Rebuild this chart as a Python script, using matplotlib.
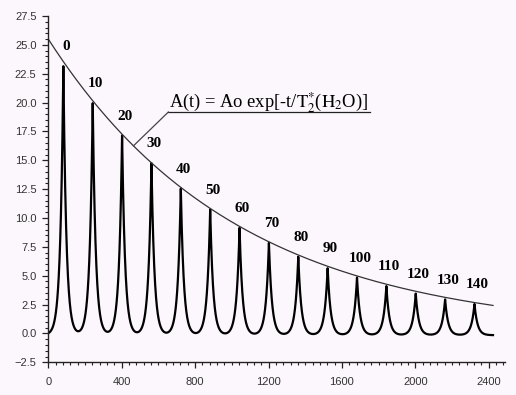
import numpy as np
import matplotlib.pyplot as plt
from matplotlib.ticker import MultipleLocator

# echo peaks: position (points), height, label (ms)
peak_x = [82, 242, 402, 562, 722, 882, 1042, 1202, 1362, 1522, 1682, 1842, 2002, 2162, 2322]
peak_h = [23.3, 20.1, 17.3, 14.9, 12.7, 10.9, 9.3, 8.0, 6.8, 5.8, 5.0, 4.25, 3.6, 3.1, 2.7]
peak_labels = ['0', '10', '20', '30', '40', '50', '60', '70', '80', '90',
               '100', '110', '120', '130', '140']
peak_tau = 16.5      # decay of each echo, points
baseline = -0.15

# envelope A(t) = Ao exp(-t/T2*)
env_a0 = 25.5
env_t2 = 1030.0
t_end = 2423

bg = '#fcf7fc'
plt.rcParams['mathtext.fontset'] = 'stix'

fig = plt.figure(figsize=(5.16, 3.95), dpi=100, facecolor=bg)
ax = fig.add_axes([48.3 / 516, (395 - 362.3) / 395, 457 / 516, 346.3 / 395])
ax.set_facecolor(bg)

t = np.arange(0, t_end + 1, 1.0)
sig = np.full_like(t, baseline)
for x0, h in zip(peak_x, peak_h):
    sig += h * np.exp(-np.abs(t - x0) / peak_tau)
ax.plot(t, sig, color='black', lw=1.6)

env = env_a0 * np.exp(-t / env_t2)
ax.plot(t, env, color='#333333', lw=0.9)

for x0, h, lab in zip(peak_x, peak_h, peak_labels):
    ax.annotate(lab, (x0, h), xytext=(2, 8), textcoords='offset points',
                ha='center', va='bottom', fontsize=11, fontweight='bold',
                family='Liberation Serif')

# formula with underline and leader line to the envelope
lead_x = 464
line_y = 19.18
ax.plot([654, 1752], [line_y, line_y], color='#222222', lw=0.9)
ax.plot([lead_x, 654], [env_a0 * np.exp(-lead_x / env_t2), line_y], color='#444444', lw=0.9)
ax.text(660, 19.6, r'A(t) = Ao exp[-t/$\mathrm{T}_2^{*}$($\mathrm{H}_2$O)]',
        fontsize=13.3, family='Liberation Serif', va='baseline', ha='left')

ax.set_xlim(0, 2490)
ax.set_ylim(-2.5, 27.5)
ax.xaxis.set_major_locator(MultipleLocator(400))
ax.xaxis.set_minor_locator(MultipleLocator(40))
ax.yaxis.set_major_locator(MultipleLocator(2.5))
ax.yaxis.set_minor_locator(MultipleLocator(0.5))
ax.yaxis.set_major_formatter(plt.FuncFormatter(lambda v, p: f'{v:.1f}'.replace('-', '\u2212')))

for s in ['top', 'right']:
    ax.spines[s].set_visible(False)
for s in ['left', 'bottom']:
    ax.spines[s].set_linewidth(1.0)
    ax.spines[s].set_color('#222222')
ax.tick_params(which='major', length=4.5, width=0.9, color='#222222',
               labelsize=8, labelcolor='#333333', pad=4, labelfontfamily='Liberation Sans')
ax.tick_params(which='minor', length=2.5, width=0.8, color='#222222')
ax.tick_params(axis='x', which='major', pad=6)

fig.savefig('out.png', dpi=100, facecolor=bg)
